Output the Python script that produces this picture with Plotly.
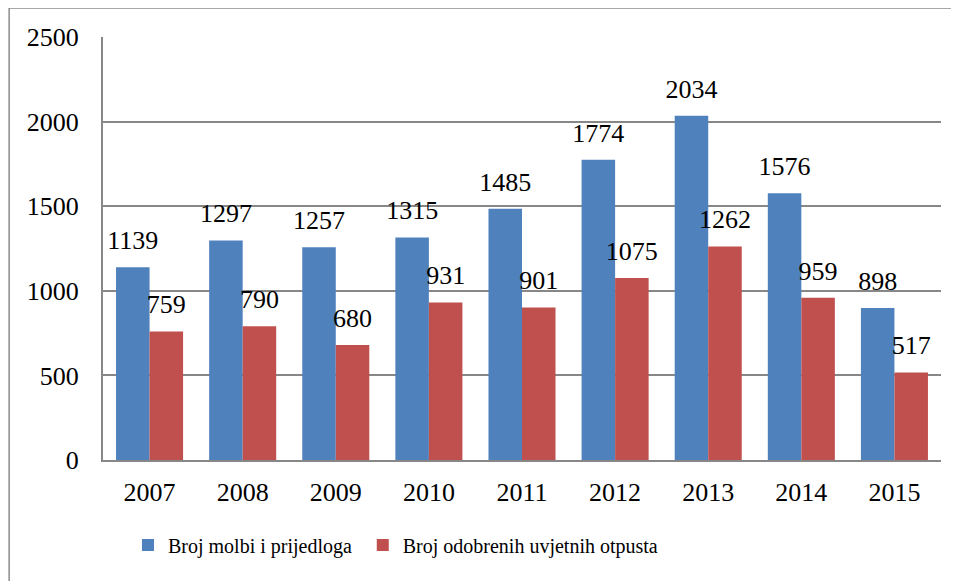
import plotly.graph_objects as go

years = ['2007', '2008', '2009', '2010', '2011', '2012', '2013', '2014', '2015']
molbe = [1139, 1297, 1257, 1315, 1485, 1774, 2034, 1576, 898]
odobreni = [759, 790, 680, 931, 901, 1075, 1262, 959, 517]
series_names = ['Broj molbi i prijedloga', 'Broj odobrenih uvjetnih otpusta']
y_ticks = [0, 500, 1000, 1500, 2000, 2500]

BLUE = '#4F81BD'
RED = '#C0504D'
GRID = '#878787'
FONT = 'Liberation Serif'

fig = go.Figure()
for name, vals, col, grp, lg in [(series_names[0], molbe, BLUE, 'a', 'legend'),
                                 (series_names[1], odobreni, RED, 'b', 'legend2')]:
    fig.add_trace(go.Bar(
        x=years, y=vals, name=name, marker=dict(color=col, line=dict(width=0)),
        offsetgroup=grp, legend=lg, hoverinfo='x+y'))
for vals, grp in [(molbe, 'a'), (odobreni, 'b')]:
    fig.add_trace(go.Scatter(
        x=years, y=vals, mode='markers+text', text=[str(v) for v in vals],
        textposition='top center', offsetgroup=grp, showlegend=False,
        marker=dict(size=17, opacity=0), cliponaxis=False,
        textfont=dict(family=FONT, size=26, color='black'), hoverinfo='skip'))

leg_common = dict(orientation='h', xanchor='left', y=-0.201, yanchor='middle',
                  font=dict(family=FONT, size=20, color='black'),
                  itemwidth=30, bgcolor='rgba(0,0,0,0)')

fig.update_layout(
    width=951, height=573,
    margin=dict(l=95, r=18, t=29, b=121),
    paper_bgcolor='white', plot_bgcolor='white',
    barmode='group', bargap=0.28, bargroupgap=0,
    scattermode='group', scattergap=0.28,
    font=dict(family=FONT, size=26, color='black'),
    showlegend=True,
    legend=dict(x=0.0298, **leg_common),
    legend2=dict(x=0.310, **leg_common),
    shapes=[dict(type='rect', xref='paper', yref='paper', x0=-0.112, x1=1.2,
                 y0=-0.5, y1=1.0686, line=dict(color='#8c8c8c', width=1.5),
                 fillcolor='rgba(0,0,0,0)', layer='below')],
)
fig.update_xaxes(type='category', showline=True, linecolor=GRID, linewidth=2,
                 ticks='', showgrid=False, ticklabelstandoff=8,
                 tickfont=dict(family=FONT, size=26, color='black'))
fig.update_yaxes(range=[0, 2500], tickvals=y_ticks, showline=True, linecolor=GRID,
                 linewidth=2, showgrid=True, gridcolor=GRID, gridwidth=2,
                 zeroline=False, ticks='', ticklabelstandoff=17,
                 tickfont=dict(family=FONT, size=26, color='black'))

fig.write_html('out.html')
